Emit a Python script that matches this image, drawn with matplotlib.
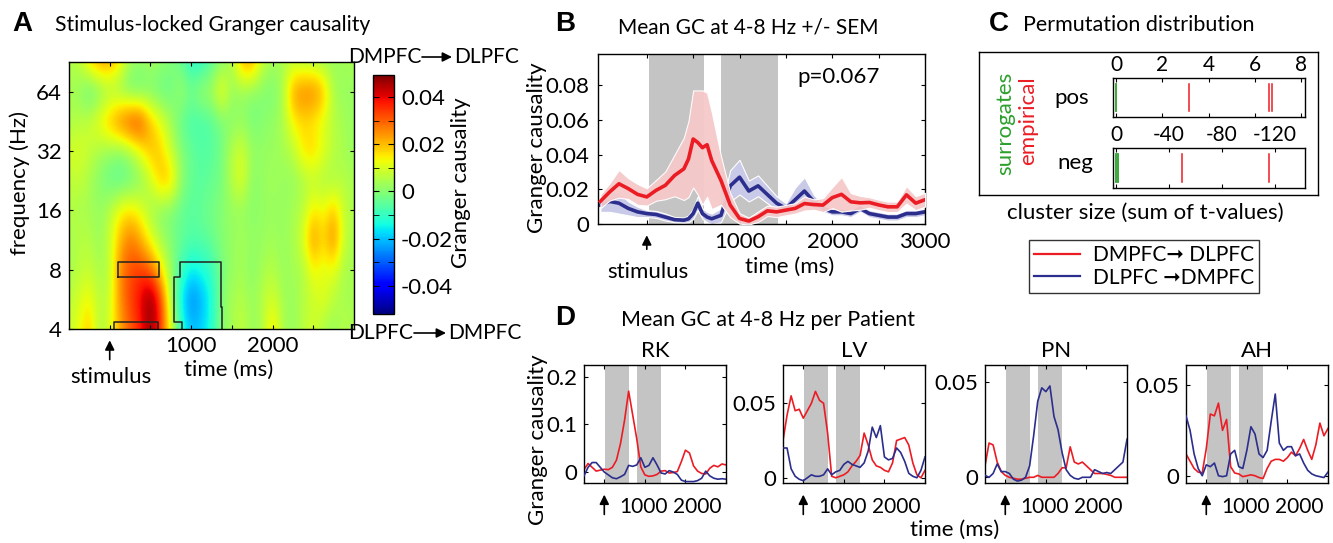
import numpy as np
import matplotlib
matplotlib.use("Agg")
import matplotlib.pyplot as plt
from matplotlib.lines import Line2D
from matplotlib.patches import FancyArrowPatch

plt.rcParams['font.family'] = ['Lato', 'DejaVu Sans']
plt.rcParams['font.size'] = 15
plt.rcParams['xtick.direction'] = 'in'
plt.rcParams['ytick.direction'] = 'in'
plt.rcParams['xtick.top'] = True
plt.rcParams['ytick.right'] = True
plt.rcParams['xtick.major.size'] = 3
plt.rcParams['ytick.major.size'] = 3
plt.rcParams['axes.linewidth'] = 1.0

W, H = 1333, 543
TICK = 16
TXT = 15

RED = '#ec1c24'
BLUE = '#2b2e8c'
GRAY = '#c4c4c4'
GREEN = '#2ca02c'

# ---------------- data ----------------
# A: stimulus-locked GC map (rows = frequency, cols = time)
hm_times = [-500, -375, -250, -125, 0, 125, 250, 375, 500, 625, 750, 875, 1000, 1125, 1250,
            1375, 1500, 1625, 1750, 1875, 2000, 2125, 2250, 2375, 2500, 2625, 2750, 2875, 3000]
hm_freqs = [4, 5.66, 8, 11.3, 16, 22.6, 32, 45, 64, 90]
gc_map = [
    [0.008, 0.012, 0.020, 0.004, 0.010, 0.022, 0.030, 0.036, 0.048, 0.035, 0.012, -0.010, -0.020, -0.018, -0.012,
     0.000, 0.004, 0.008, 0.002, 0.004, 0.018, 0.004, 0.002, 0.006, 0.010, 0.004, 0.002, 0.006, 0.004],
    [0.006, 0.010, 0.014, 0.006, 0.008, 0.025, 0.033, 0.040, 0.050, 0.036, 0.006, -0.016, -0.027, -0.022, -0.014,
     0.000, 0.004, 0.006, 0.002, 0.006, 0.010, 0.004, 0.002, 0.006, 0.008, 0.012, 0.006, 0.004, 0.004],
    [0.004, 0.006, 0.008, 0.004, 0.006, 0.026, 0.032, 0.034, 0.030, 0.016, 0.002, -0.008, -0.016, -0.013, -0.010,
     -0.002, 0.002, 0.004, 0.000, 0.004, 0.006, 0.002, 0.004, 0.004, 0.014, 0.010, 0.012, 0.004, 0.004],
    [0.004, 0.006, 0.006, 0.002, 0.008, 0.020, 0.028, 0.022, 0.012, 0.004, 0.000, -0.004, -0.006, -0.006, -0.004,
     0.000, 0.002, 0.004, 0.002, 0.002, 0.004, 0.002, 0.004, 0.010, 0.026, 0.016, 0.028, 0.008, 0.004],
    [0.006, 0.004, 0.004, 0.002, 0.006, 0.014, 0.016, 0.012, 0.004, 0.000, -0.002, -0.004, -0.006, -0.004, -0.002,
     0.000, 0.002, 0.002, 0.000, 0.002, 0.002, 0.002, 0.004, 0.006, 0.016, 0.012, 0.020, 0.008, 0.004],
    [0.006, 0.008, 0.004, 0.000, -0.004, -0.006, -0.004, 0.000, 0.008, 0.020, 0.020, 0.002, -0.004, -0.006, -0.004,
     -0.002, 0.006, 0.012, 0.000, 0.002, 0.004, 0.002, 0.002, 0.004, 0.006, 0.004, 0.004, 0.006, 0.004],
    [0.010, 0.010, 0.008, 0.004, 0.002, 0.000, 0.004, 0.012, 0.020, 0.018, 0.008, 0.000, -0.004, -0.006, -0.006,
     -0.002, 0.006, 0.010, 0.002, 0.002, 0.002, 0.004, 0.006, 0.016, 0.018, 0.012, 0.006, 0.004, 0.002],
    [0.004, 0.006, 0.008, 0.014, 0.022, 0.030, 0.036, 0.036, 0.020, 0.012, 0.004, -0.004, -0.008, -0.008, -0.006,
     -0.002, 0.000, 0.002, -0.002, 0.000, 0.002, 0.004, 0.014, 0.016, 0.014, 0.010, 0.006, 0.004, 0.002],
    [0.004, 0.002, -0.006, -0.002, 0.002, 0.000, -0.004, -0.004, -0.002, -0.004, -0.004, 0.004, -0.002, 0.004, 0.004,
     0.016, 0.002, 0.002, 0.000, 0.000, -0.002, 0.004, 0.024, 0.028, 0.028, 0.022, 0.004, 0.002, 0.002],
    [0.006, 0.006, 0.018, 0.024, 0.024, 0.016, 0.004, 0.002, 0.004, 0.002, 0.000, -0.004, -0.012, -0.012, -0.006,
     0.000, 0.004, 0.022, 0.024, 0.008, 0.004, 0.004, 0.006, 0.004, 0.004, 0.002, 0.002, 0.004, 0.004],
]
# significant clusters (time ms, frequency Hz)
clus1_t = [101, 601, 601, 101, 101]
clus1_f = [7.31, 7.31, 8.70, 8.70, 7.31]
clus2_t = [49, 49, 594, 594]
clus2_f = [4.0, 4.36, 4.36, 4.0]
clus3_t = [882, 882, 793, 793, 862, 862, 1362, 1362, 1383, 1383]
clus3_f = [4.0, 4.36, 4.36, 7.31, 7.31, 8.70, 8.70, 5.19, 5.19, 4.0]

# B: mean GC 4-8 Hz +/- SEM
b_time = [-500, -400, -300, -200, -100, 0, 100, 200, 300, 400, 450, 500, 550, 600, 650, 700,
          800, 900, 1000, 1100, 1200, 1300, 1400, 1500, 1600, 1700, 1800, 1900, 2000, 2100,
          2200, 2300, 2400, 2500, 2600, 2700, 2800, 2900, 3000]
b_red = [0.0131, 0.0185, 0.0232, 0.0204, 0.0171, 0.0156, 0.0194, 0.0223, 0.028, 0.0318, 0.0375,
         0.049, 0.047, 0.044, 0.0457, 0.0366, 0.0251, 0.0109, 0.0032, 0.0017, 0.0042, 0.0076,
         0.007, 0.008, 0.009, 0.0118, 0.0112, 0.0109, 0.0152, 0.0171, 0.0128, 0.0122, 0.0124,
         0.011, 0.0099, 0.0099, 0.0168, 0.012, 0.014]
b_red_sem = [0.004, 0.005, 0.008, 0.006, 0.006, 0.005, 0.006, 0.008, 0.012, 0.018, 0.022, 0.028,
             0.03, 0.033, 0.03, 0.028, 0.014, 0.007, 0.003, 0.002, 0.003, 0.003, 0.003, 0.003,
             0.003, 0.004, 0.003, 0.004, 0.006, 0.01, 0.005, 0.004, 0.003, 0.003, 0.003, 0.003,
             0.005, 0.004, 0.004]
b_blue = [0.011, 0.013, 0.012, 0.009, 0.007, 0.006, 0.0055, 0.004, 0.0025, 0.0022, 0.003, 0.006,
          0.012, 0.006, 0.004, 0.003, 0.005, 0.022, 0.027, 0.019, 0.022, 0.017, 0.012, 0.009,
          0.014, 0.019, 0.013, 0.009, 0.007, 0.007, 0.006, 0.009, 0.006, 0.005, 0.004, 0.004,
          0.006, 0.006, 0.007]
b_blue_sem = [0.004, 0.006, 0.006, 0.004, 0.003, 0.002, 0.002, 0.002, 0.0015, 0.0015, 0.002,
              0.003, 0.004, 0.003, 0.003, 0.003, 0.004, 0.009, 0.01, 0.006, 0.006, 0.005, 0.004,
              0.003, 0.007, 0.008, 0.004, 0.002, 0.002, 0.002, 0.002, 0.002, 0.002, 0.002, 0.002,
              0.002, 0.002, 0.002, 0.002]
sig_windows = [(25, 615), (800, 1410)]

# C: permutation distribution
pos_surrogates = [0.0]
pos_empirical = [3.16, 6.6, 6.75]
neg_surrogates = [0.5, -1.0]
neg_empirical = [-50, -115.7]

# D: per patient
d_time = list(range(-500, 3001, 100))
patients = ['RK', 'LV', 'PN', 'AH']
d_red = {
    'RK': [0.005, 0.018, 0.01, 0.002, 0.004, 0.006, 0.005, 0.01, 0.025, 0.06, 0.109, 0.17, 0.12,
           0.07, 0.011, -0.006, -0.009, -0.008, -0.005, 0.002, 0.003, -0.002, -0.001, 0.001,
           0.022, 0.046, 0.04, 0.013, 0.002, -0.003, -0.004, 0.008, 0.014, 0.011, 0.017, 0.015],
    'LV': [0.025, 0.042, 0.055, 0.045, 0.046, 0.04, 0.045, 0.05, 0.058, 0.052, 0.05, 0.03, 0.001,
           0.0, 0.001, 0.002, 0.004, 0.008, 0.011, 0.015, 0.03, 0.022, 0.012, 0.008, 0.007,
           0.005, 0.004, 0.01, 0.025, 0.026, 0.027, 0.022, 0.01, 0.002, 0.0, 0.005],
    'PN': [0.006, 0.018, 0.017, 0.008, 0.003, 0.001, 0.0, -0.0005, -0.001, -0.001, -0.0005, 0.0,
           0.0, 0.001, 0.0, 0.0, 0.0, 0.0, 0.002, 0.005, 0.005, 0.016, 0.008, 0.007, 0.008,
           0.006, 0.004, 0.002, 0.002, 0.002, 0.0015, 0.001, 0.0, 0.0, 0.0, 0.0],
    'AH': [0.012, 0.008, 0.004, 0.002, 0.0015, 0.015, 0.034, 0.033, 0.04, 0.025, 0.031, 0.005,
           0.0015, 0.001, -0.0005, 0.0, 0.0005, 0.0, -0.001, -0.0015, 0.004, 0.008, 0.009,
           0.009, 0.008, 0.01, 0.013, 0.011, 0.015, 0.02, 0.014, 0.009, 0.017, 0.029, 0.022, 0.026],
}
d_blue = {
    'RK': [-0.008, 0.01, 0.02, 0.02, 0.01, 0.0, -0.006, -0.012, -0.014, -0.01, -0.005, 0.014,
           0.012, 0.015, 0.03, 0.01, 0.014, 0.03, 0.015, -0.002, -0.004, 0.003, 0.0, -0.005,
           -0.017, -0.02, -0.02, -0.02, -0.018, -0.013, 0.002, -0.008, -0.013, -0.015, -0.014, -0.015],
    'LV': [0.02, 0.02, 0.006, 0.001, -0.001, -0.002, 0.0, 0.002, 0.001, 0.001, 0.002, 0.006,
           0.002, 0.004, 0.005, 0.009, 0.011, 0.009, 0.008, 0.007, 0.01, 0.018, 0.034, 0.027,
           0.035, 0.014, 0.012, 0.013, 0.02, 0.017, 0.011, 0.003, 0.001, 0.0, 0.005, 0.014],
    'PN': [0.001, 0.0, 0.002, 0.007, 0.003, 0.003, 0.002, -0.001, -0.002, -0.0015, 0.0, 0.006,
           0.022, 0.04, 0.047, 0.045, 0.048, 0.032, 0.025, 0.013, 0.004, 0.001, -0.0005, -0.001,
           0.0, 0.0, 0.0, 0.004, 0.003, 0.002, 0.0025, 0.002, 0.004, 0.006, 0.008, 0.02],
    'AH': [0.033, 0.025, 0.012, 0.004, 0.0, 0.006, 0.005, 0.007, 0.0, -0.0005, 0.0, 0.012,
           0.014, 0.005, 0.004, 0.014, 0.027, 0.023, 0.012, 0.01, 0.014, 0.03, 0.045, 0.018,
           0.014, 0.016, 0.016, 0.011, 0.012, 0.007, 0.003, 0.001, 0.0, -0.0005, -0.001, 0.002],
}
d_ylim = {'RK': (-0.023, 0.225), 'LV': (-0.0035, 0.0757), 'PN': (-0.003, 0.059), 'AH': (-0.004, 0.061)}
d_yticks = {'RK': [0, 0.1, 0.2], 'LV': [0, 0.05], 'PN': [0, 0.05], 'AH': [0, 0.05]}
d_yticklabels = {'RK': ['0', '0.1', '0.2'], 'LV': ['0', '0.05'], 'PN': ['0', '0.05'], 'AH': ['0', '0.05']}


def box(x0, y0, x1, y1):
    # pixel box (top-left origin) -> figure fraction rect
    return [x0 / W, 1 - y1 / H, (x1 - x0) / W, (y1 - y0) / H]


def ftext(x, y, s, **kw):
    kw.setdefault('ha', 'center')
    kw.setdefault('va', 'center')
    kw.setdefault('fontsize', TXT)
    fig.text(x / W, 1 - y / H, s, **kw)


def arrow_label(x0, x1, y):
    fig.add_artist(FancyArrowPatch(
        (x0 / W, 1 - y / H), (x1 / W, 1 - y / H), transform=fig.transFigure,
        arrowstyle='-|>', mutation_scale=14, color='k', lw=1.2, shrinkA=0, shrinkB=0))


def stim_arrow(ax, y_top, y_bot):
    ax.annotate('', xy=(0, y_top), xytext=(0, y_bot), xycoords=ax.get_xaxis_transform(),
                arrowprops=dict(arrowstyle='-|>', color='k', lw=1.2, mutation_scale=14),
                annotation_clip=False)


fig = plt.figure(figsize=(W / 100, H / 100), dpi=100)

# ---------------- A ----------------
axA = fig.add_axes(box(69, 62, 354, 329))
dt = hm_times[1] - hm_times[0]
ly = np.log2(hm_freqs)
dly = ly[1] - ly[0]
im = axA.imshow(np.array(gc_map), origin='lower', aspect='auto', cmap='jet', vmin=-0.052, vmax=0.0494,
                extent=[hm_times[0] - dt / 2, hm_times[-1] + dt / 2, ly[0] - dly / 2, ly[-1] + dly / 2],
                interpolation='bicubic')
for tt, ff in [(clus1_t, clus1_f), (clus2_t, clus2_f), (clus3_t, clus3_f)]:
    axA.plot(tt, np.log2(ff), color='#222222', lw=1.1)
axA.set_xlim(-500, 3000)
axA.set_ylim(2, np.log2(90.5))
axA.set_xticks([0, 500, 1000, 1500, 2000, 2500])
axA.set_xticklabels(['', '', '1000', '', '2000', ''])
axA.set_yticks(np.log2([4, 8, 16, 32, 64]))
axA.set_yticklabels(['4', '8', '16', '32', '64'])
axA.tick_params(labelsize=TICK, pad=5)
stim_arrow(axA, -0.032, -0.125)
ftext(111, 377, 'stimulus', fontsize=16)
ftext(229, 370, 'time (ms)', fontsize=16)
ftext(20, 183, 'frequency (Hz)', rotation=90, fontsize=16)

cax = fig.add_axes(box(373, 75, 394, 314))
cb = fig.colorbar(im, cax=cax, ticks=[-0.04, -0.02, 0, 0.02, 0.04])
cb.ax.set_yticklabels(['-0.04', '-0.02', '0', '0.02', '0.04'])
cb.ax.yaxis.set_ticks([-0.03, -0.01, 0.01, 0.03], minor=True)
cb.ax.tick_params(which='both', direction='in', left=True, right=True, length=4, labelsize=TICK, color='k', pad=5)
ftext(461, 183, 'Granger causality', rotation=90, fontsize=16)

ftext(421, 57, 'DMPFC', ha='right')
arrow_label(422, 452, 57)
ftext(454, 57, 'DLPFC', ha='left')
ftext(413, 333, 'DLPFC', ha='right')
arrow_label(414, 446, 333)
ftext(448, 333, 'DMPFC', ha='left')

# ---------------- B ----------------
axB = fig.add_axes(box(598, 54, 925, 224))
for w0, w1 in sig_windows:
    axB.axvspan(w0, w1, color=GRAY, lw=0, zorder=0)
bt = np.array(b_time)
bb = np.array(b_blue); bbs = np.array(b_blue_sem)
br = np.array(b_red); brs = np.array(b_red_sem)
axB.fill_between(bt, bb - bbs, bb + bbs, facecolor='#c9c9e8', edgecolor='white', lw=0.8, zorder=1)
axB.plot(bt, bb, color=BLUE, lw=2.6, zorder=2)
axB.fill_between(bt, br - brs, br + brs, facecolor='#f5c9c9', edgecolor='white', lw=0.8, alpha=0.95, zorder=3)
axB.plot(bt, br, color=RED, lw=2.6, zorder=4)
axB.set_xlim(-526, 3000)
axB.set_ylim(0, 0.098)
axB.set_xticks([0, 500, 1000, 1500, 2000, 2500, 3000])
axB.set_xticklabels(['', '', '1000', '', '2000', '', '3000'])
axB.set_yticks([0, 0.02, 0.04, 0.06, 0.08])
axB.set_yticklabels(['0', '0.02', '0.04', '0.06', '0.08'])
axB.tick_params(labelsize=TICK, pad=6)
axB.text(0.61, 0.865, 'p=0.067', transform=axB.transAxes, fontsize=TICK, va='center')
stim_arrow(axB, -0.05, -0.165)
ftext(648, 272, 'stimulus', fontsize=16)
ftext(790, 267, 'time (ms)', fontsize=16)
ftext(537, 148, 'Granger causality', rotation=90, fontsize=16)

# ---------------- C ----------------
frame = fig.add_axes(box(979, 52, 1318, 195))
frame.set_xticks([]); frame.set_yticks([])
frame.patch.set_alpha(0)

axP = fig.add_axes(box(1113, 78, 1305, 117))
for v in pos_surrogates:
    axP.axvline(v, 0.15, 0.85, color=GREEN, lw=1.3)
for v in pos_empirical:
    axP.axvline(v, 0.15, 0.85, color=RED, lw=1.1)
axP.set_xlim(-0.13, 8.17)
axP.set_xticks([0, 2, 4, 6, 8])
axP.set_yticks([])
axP.tick_params(axis='x', top=True, bottom=True, labeltop=True, labelbottom=False, labelsize=TXT, pad=2)

axN = fig.add_axes(box(1113, 148, 1305, 188))
for v in neg_surrogates:
    axN.axvline(v, 0.15, 0.85, color=GREEN, lw=1.3)
for v in neg_empirical:
    axN.axvline(v, 0.15, 0.85, color=RED, lw=1.1)
axN.set_xlim(2.5, -143)
axN.set_xticks([0, -40, -80, -120])
axN.set_xticklabels(['0', '-40', '-80', '-120'])
axN.set_yticks([])
axN.tick_params(axis='x', top=True, bottom=True, labeltop=True, labelbottom=False, labelsize=TXT, pad=2)

ftext(1072, 98, 'pos', fontsize=16)
ftext(1075, 163, 'neg', fontsize=16)
ftext(1005, 123, 'surrogates', rotation=90, color=GREEN, fontsize=16)
ftext(1028, 121, 'empirical', rotation=90, color=RED, fontsize=16)
ftext(1145, 213, 'cluster size (sum of t-values)', fontsize=16)

handles = [Line2D([], [], color=RED, lw=1.6), Line2D([], [], color=BLUE, lw=1.6)]
leg = fig.legend(handles, ['DMPFC\u279e DLPFC', 'DLPFC \u279eDMPFC'], loc='center',
                 bbox_to_anchor=(1144 / W, 1 - 266.5 / H), fontsize=TXT, frameon=True, fancybox=False,
                 edgecolor='k', handlelength=2.2, borderpad=0.25, labelspacing=0.1, handletextpad=0.6)
leg.get_frame().set_linewidth(1.0)

# ---------------- D ----------------
d_left = [584, 783, 985, 1186]
for p, xl in zip(patients, d_left):
    ax = fig.add_axes(box(xl, 365, xl + 142, 483))
    for w0, w1 in sig_windows:
        ax.axvspan(w0, w1, color=GRAY, lw=0, zorder=0)
    ax.plot(d_time, d_red[p], color=RED, lw=1.2, zorder=2)
    ax.plot(d_time, d_blue[p], color=BLUE, lw=1.2, zorder=3)
    ax.set_xlim(-500, 3000)
    ax.set_ylim(*d_ylim[p])
    ax.set_xticks([0, 1000, 2000, 3000])
    ax.set_xticklabels([])
    ax.set_yticks(d_yticks[p])
    ax.set_yticklabels(d_yticklabels[p])
    ax.tick_params(labelsize=TICK, pad=5)
    # tick labels sit slightly apart, as in the original
    ax.text(960, -0.2, '1000', transform=ax.get_xaxis_transform(), ha='center', va='center', fontsize=15)
    ax.text(2290, -0.2, '2000', transform=ax.get_xaxis_transform(), ha='center', va='center', fontsize=15)
    ax.set_title(p, fontsize=TICK, pad=6)
    stim_arrow(ax, -0.075, -0.29)

ftext(538, 440, 'Granger causality', rotation=90, fontsize=16)
ftext(955, 530, 'time (ms)', fontsize=16)

# ---------------- titles ----------------
ftext(22, 24, 'A', fontsize=20, fontweight='bold', family='Liberation Sans')
ftext(55, 25, 'Stimulus-locked Granger causality', ha='left', fontsize=15.2)
ftext(565, 24, 'B', fontsize=20, fontweight='bold', family='Liberation Sans')
ftext(618, 27, 'Mean GC at 4-8 Hz +/- SEM', ha='left', fontsize=15)
ftext(999, 24, 'C', fontsize=20, fontweight='bold', family='Liberation Sans')
ftext(1023, 25, 'Permutation distribution', ha='left', fontsize=15.5)
ftext(565, 318, 'D', fontsize=20, fontweight='bold', family='Liberation Sans')
ftext(621, 320, 'Mean GC at 4-8 Hz per Patient', ha='left', fontsize=15.5)

fig.savefig('out.png', dpi=100)
